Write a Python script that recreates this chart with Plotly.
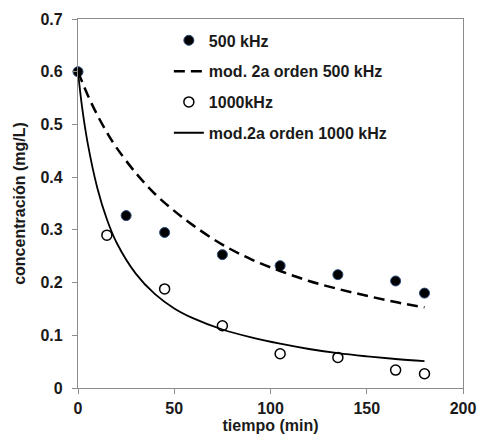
import plotly.graph_objects as go

# Measured data
t_500 = [0, 25, 45, 75, 105, 135, 165, 180]
c_500 = [0.600, 0.327, 0.295, 0.253, 0.232, 0.215, 0.203, 0.180]

t_1000 = [15, 45, 75, 105, 135, 165, 180]
c_1000 = [0.290, 0.188, 0.118, 0.065, 0.058, 0.034, 0.027]

# Model curves
t_mod500 = [0, 5, 10, 15, 20, 30, 40, 50, 60, 75, 90, 105, 120, 135, 150, 165, 180]
c_mod500 = [0.600, 0.556, 0.518, 0.485, 0.456, 0.408, 0.368, 0.336, 0.308, 0.272, 0.244, 0.222, 0.203, 0.188, 0.175, 0.163, 0.153]

t_mod1000 = [0, 2, 5, 10, 15, 20, 30, 40, 50, 60, 75, 90, 105, 120, 135, 150, 165, 180]
c_mod1000 = [0.600, 0.536, 0.465, 0.380, 0.320, 0.276, 0.217, 0.178, 0.151, 0.132, 0.111, 0.096, 0.084, 0.074, 0.066, 0.060, 0.055, 0.051]

x_ticks = [0, 50, 100, 150, 200]
x_tick_text = ["0", "50", "100", "150", "200"]
y_ticks = [0, 0.1, 0.2, 0.3, 0.4, 0.5, 0.6, 0.7]
y_tick_text = ["0", "0.1", "0.2", "0.3", "0.4", "0.5", "0.6", "0.7"]

FONT = "Liberation Sans, Arial, sans-serif"
TXT = "#1a1a1a"

fig = go.Figure()
fig.add_trace(go.Scatter(
    x=t_500, y=c_500, mode="markers", name="<b>500 kHz</b>",
    legendgroup="a", cliponaxis=False,
    marker=dict(symbol="circle", size=10, color="#000000",
                line=dict(color="#2a4a7a", width=1)),
))
fig.add_trace(go.Scatter(
    x=t_mod500, y=c_mod500, mode="lines", name="<b>mod. 2a orden 500 kHz</b>",
    legendgroup="b", line=dict(color="#000000", width=2.5, dash="11px,6px", shape="spline"),
))
fig.add_trace(go.Scatter(
    x=t_1000, y=c_1000, mode="markers", name="<b>1000kHz</b>",
    legendgroup="c", cliponaxis=False,
    marker=dict(symbol="circle", size=10, color="#ffffff",
                line=dict(color="#000000", width=1.5)),
))
fig.add_trace(go.Scatter(
    x=t_mod1000, y=c_mod1000, mode="lines", name="<b>mod.2a orden 1000 kHz</b>",
    legendgroup="d", line=dict(color="#000000", width=1.8, shape="spline"),
))

axis_common = dict(
    showline=True, linecolor="#8c8c8c", linewidth=1.2, mirror=True,
    ticks="outside", ticklen=5, tickcolor="#8c8c8c", tickwidth=1,
    showgrid=False, zeroline=False, automargin=False,
    tickfont=dict(family=FONT, size=16, color=TXT),
)

fig.update_layout(
    width=478, height=441,
    margin=dict(l=78, r=15, t=19, b=53),
    paper_bgcolor="white", plot_bgcolor="white",
    font=dict(family=FONT, color=TXT),
    showlegend=True,
    legend=dict(
        x=0.236, y=0.988, xanchor="left", yanchor="top",
        bgcolor="rgba(0,0,0,0)", font=dict(family=FONT, size=16, color=TXT),
        traceorder="grouped", tracegroupgap=7, itemwidth=30,
    ),
    xaxis=dict(range=[0, 200], tickvals=x_ticks,
               ticktext=["<b>%s</b>" % s for s in x_tick_text],
               title=dict(text="<b>tiempo (min)</b>", standoff=3,
                          font=dict(family=FONT, size=16, color=TXT)),
               **axis_common),
    yaxis=dict(range=[0, 0.7], tickvals=y_ticks,
               ticktext=["<b>%s</b>" % s for s in y_tick_text],
               title=dict(text="<b>concentración (mg/L)</b>", standoff=10,
                          font=dict(family=FONT, size=16, color=TXT)),
               **axis_common),
)
fig.update_xaxes(ticklabelstandoff=1)
fig.update_yaxes(ticklabelstandoff=6)

fig.write_html("out.html", config={"displayModeBar": False},
               post_script="document.body.style.margin='0';document.body.style.overflow='hidden';")
